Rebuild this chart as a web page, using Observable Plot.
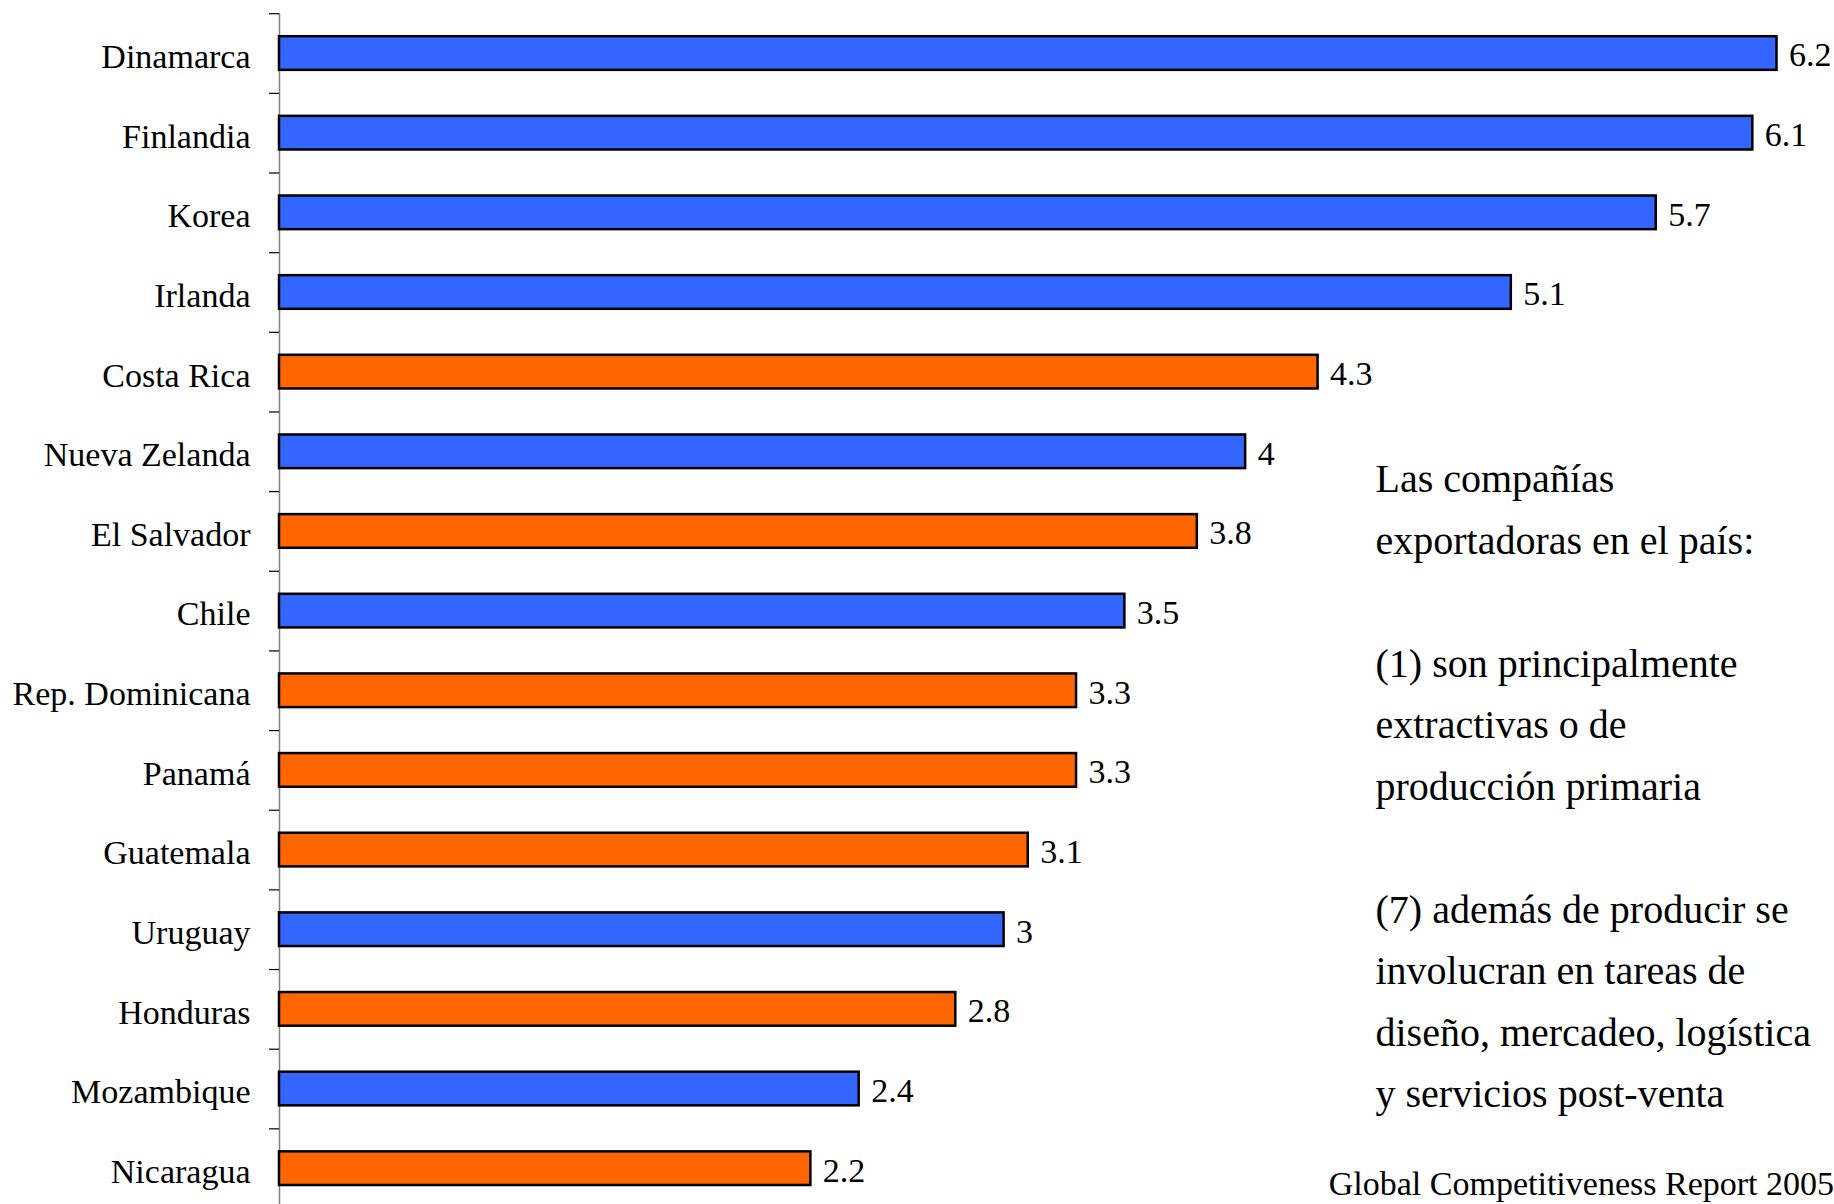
<!DOCTYPE html>
<html>
<head>
<meta charset="utf-8">
<script src="https://cdn.jsdelivr.net/npm/d3@7"></script>
<script src="https://cdn.jsdelivr.net/npm/@observablehq/plot@0.6"></script>
<style>
  html, body { margin: 0; padding: 0; background: white; }
  #chart { width: 1834px; height: 1204px; overflow: hidden; }
</style>
</head>
<body>
<div id="chart"></div>
<script>
const countries = ["Dinamarca", "Finlandia", "Korea", "Irlanda", "Costa Rica", "Nueva Zelanda", "El Salvador", "Chile", "Rep. Dominicana", "Panamá", "Guatemala", "Uruguay", "Honduras", "Mozambique", "Nicaragua"];
const values = [6.2, 6.1, 5.7, 5.1, 4.3, 4, 3.8, 3.5, 3.3, 3.3, 3.1, 3, 2.8, 2.4, 2.2];
const groups = ["otros", "otros", "otros", "otros", "ca", "otros", "ca", "otros", "ca", "ca", "ca", "otros", "ca", "otros", "ca"];
const groupColors = {otros: "#3366FF", ca: "#FF6600"};
const annotationLines = [
  "Las compañías",
  "exportadoras en el país:",
  "",
  "(1) son principalmente",
  "extractivas o de",
  "producción primaria",
  "",
  "(7) además de producir se",
  "involucran en tareas de",
  "diseño, mercadeo, logística",
  "y servicios post-venta"
];
const source = "Global Competitiveness Report 2005";

const data = countries.map((c, i) => ({country: c, value: values[i], group: groups[i]}));

const W = 1834, H = 1204, mTop = 13, mLeft = 279, mRight = 57.5;
const yRange = [13.2, 1208];
const step = (yRange[1] - yRange[0]) / countries.length;

const chart = Plot.plot({
  width: W,
  height: H,
  marginLeft: mLeft,
  marginRight: mRight,
  marginTop: mTop,
  marginBottom: 0,
  style: {fontFamily: "'Liberation Serif', 'Times New Roman', serif", fontSize: "34px", background: "white", color: "black"},
  x: {domain: [0, 6.2], axis: null},
  y: {domain: countries, range: yRange, padding: 0, round: false, axis: null},
  marks: [
    Plot.ruleX([0], {stroke: "#808080", strokeWidth: 1.5}),
    Plot.axisY({ticks: countries, tickSize: 10, tickFormat: () => "", label: null, dy: -step / 2, stroke: "black", strokeWidth: 1.2}),
    Plot.axisY({tickSize: 0, tickPadding: 29, label: null, fontSize: 34, dy: 3.5, fill: "black"}),
    Plot.barX(data, {
      x: "value", y: "country",
      fill: d => groupColors[d.group],
      stroke: "black", strokeWidth: 2.5,
      insetTop: 23, insetBottom: 23
    }),
    Plot.text(data, {
      x: "value", y: "country",
      text: d => String(d.value),
      textAnchor: "start", dx: 12, dy: 2,
      fontSize: 34, fill: "black"
    }),
    Plot.text([annotationLines.join("\n")], {
      frameAnchor: "top-left", textAnchor: "start", lineAnchor: "top",
      dx: 1096, dy: 435, lineHeight: 1.5375, fontSize: 40, fill: "black"
    }),
    Plot.text([source], {
      frameAnchor: "bottom-right", textAnchor: "end",
      dx: 57, dy: -10, fontSize: 34, fill: "black"
    })
  ]
});
document.getElementById("chart").appendChild(chart);
</script>
</body>
</html>
